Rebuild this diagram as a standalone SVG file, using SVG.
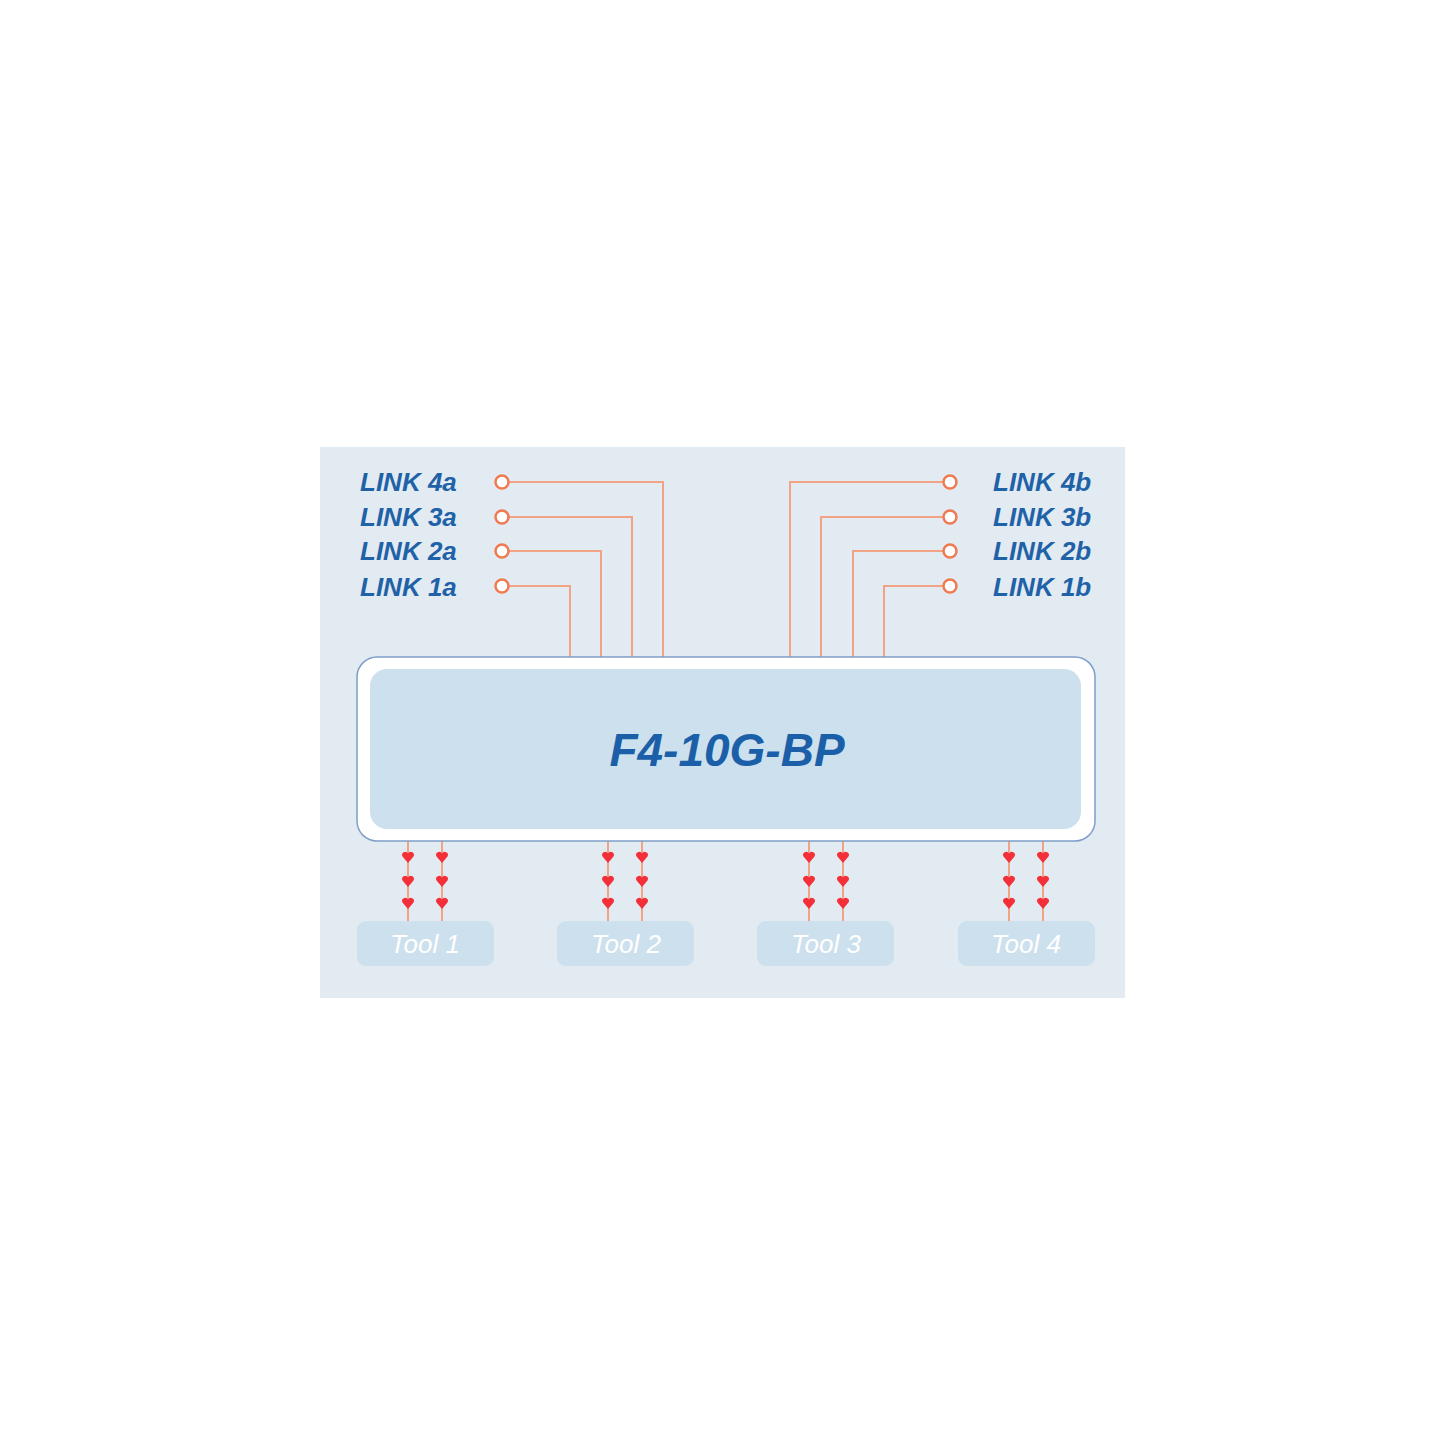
<svg xmlns="http://www.w3.org/2000/svg" xmlns:xlink="http://www.w3.org/1999/xlink" width="1445" height="1445" viewBox="0 0 1445 1445">
<style>
.lbl{font-family:"Liberation Sans",Arial,sans-serif;font-style:italic;font-weight:bold;font-size:26px;fill:#1f62a8}
.tool{font-family:"Liberation Sans",Arial,sans-serif;font-style:italic;font-size:26px;fill:#ffffff}
.wire{fill:none;stroke:#f2a384;stroke-width:2}
.port{fill:#ffffff;stroke:#f07a52;stroke-width:2.5}
.tbox{fill:#cde0ee}
.heart{fill:#f3303a}
</style>
<defs>
<path id="h" class="heart" d="M0,6 L-5.5,-0.5 A3,3 0 0 1 0,-3.5 A3,3 0 0 1 5.5,-0.5 Z"/>
</defs>
<rect width="1445" height="1445" fill="#ffffff"/>
<rect x="320" y="447" width="805" height="551" fill="#e3ebf2"/>
<g id="connectors">
<path class="wire" d="M509,482 H663 V657"/>
<path class="wire" d="M509,517 H632 V657"/>
<path class="wire" d="M509,551 H601 V657"/>
<path class="wire" d="M509,586 H570 V657"/>
<path class="wire" d="M943,482 H790 V657"/>
<path class="wire" d="M943,517 H821 V657"/>
<path class="wire" d="M943,551 H853 V657"/>
<path class="wire" d="M943,586 H884 V657"/>
<g>
<path class="wire" d="M408,841 V921 M442,841 V921 M608,841 V921 M642,841 V921 M809,841 V921 M843,841 V921 M1009,841 V921 M1043,841 V921"/>
</g>
<g id="hearts">
<use href="#h" x="408" y="857"/><use href="#h" x="408" y="881"/><use href="#h" x="408" y="903"/>
<use href="#h" x="442" y="857"/><use href="#h" x="442" y="881"/><use href="#h" x="442" y="903"/>
<use href="#h" x="608" y="857"/><use href="#h" x="608" y="881"/><use href="#h" x="608" y="903"/>
<use href="#h" x="642" y="857"/><use href="#h" x="642" y="881"/><use href="#h" x="642" y="903"/>
<use href="#h" x="809" y="857"/><use href="#h" x="809" y="881"/><use href="#h" x="809" y="903"/>
<use href="#h" x="843" y="857"/><use href="#h" x="843" y="881"/><use href="#h" x="843" y="903"/>
<use href="#h" x="1009" y="857"/><use href="#h" x="1009" y="881"/><use href="#h" x="1009" y="903"/>
<use href="#h" x="1043" y="857"/><use href="#h" x="1043" y="881"/><use href="#h" x="1043" y="903"/>
</g>
</g>
<g id="link4a"><circle class="port" cx="502" cy="482" r="6.5"/><text class="lbl" x="360" y="491">LINK 4a</text></g>
<g id="link3a"><circle class="port" cx="502" cy="517" r="6.5"/><text class="lbl" x="360" y="526">LINK 3a</text></g>
<g id="link2a"><circle class="port" cx="502" cy="551" r="6.5"/><text class="lbl" x="360" y="560">LINK 2a</text></g>
<g id="link1a"><circle class="port" cx="502" cy="586" r="6.5"/><text class="lbl" x="360" y="596">LINK 1a</text></g>
<g id="link4b"><circle class="port" cx="950" cy="482" r="6.5"/><text class="lbl" x="993" y="491">LINK 4b</text></g>
<g id="link3b"><circle class="port" cx="950" cy="517" r="6.5"/><text class="lbl" x="993" y="526">LINK 3b</text></g>
<g id="link2b"><circle class="port" cx="950" cy="551" r="6.5"/><text class="lbl" x="993" y="560">LINK 2b</text></g>
<g id="link1b"><circle class="port" cx="950" cy="586" r="6.5"/><text class="lbl" x="993" y="596">LINK 1b</text></g>
<g id="device">
<rect x="357" y="657" width="738" height="184" rx="20" fill="#ffffff" stroke="#7f9fc9" stroke-width="1.5"/>
<rect x="370" y="669" width="711" height="160" rx="17" fill="#cce0ee"/>
<text x="727" y="766" text-anchor="middle" font-family="Liberation Sans,Arial,sans-serif" font-style="italic" font-weight="bold" font-size="46" fill="#1a5fa8">F4-10G-BP</text>
</g>
<g id="tool1"><rect class="tbox" x="357" y="921" width="137" height="45" rx="9"/><text class="tool" x="425" y="953" text-anchor="middle">Tool 1</text></g>
<g id="tool2"><rect class="tbox" x="557" y="921" width="137" height="45" rx="9"/><text class="tool" x="626" y="953" text-anchor="middle">Tool 2</text></g>
<g id="tool3"><rect class="tbox" x="757" y="921" width="137" height="45" rx="9"/><text class="tool" x="826" y="953" text-anchor="middle">Tool 3</text></g>
<g id="tool4"><rect class="tbox" x="958" y="921" width="137" height="45" rx="9"/><text class="tool" x="1026" y="953" text-anchor="middle">Tool 4</text></g>
</svg>
